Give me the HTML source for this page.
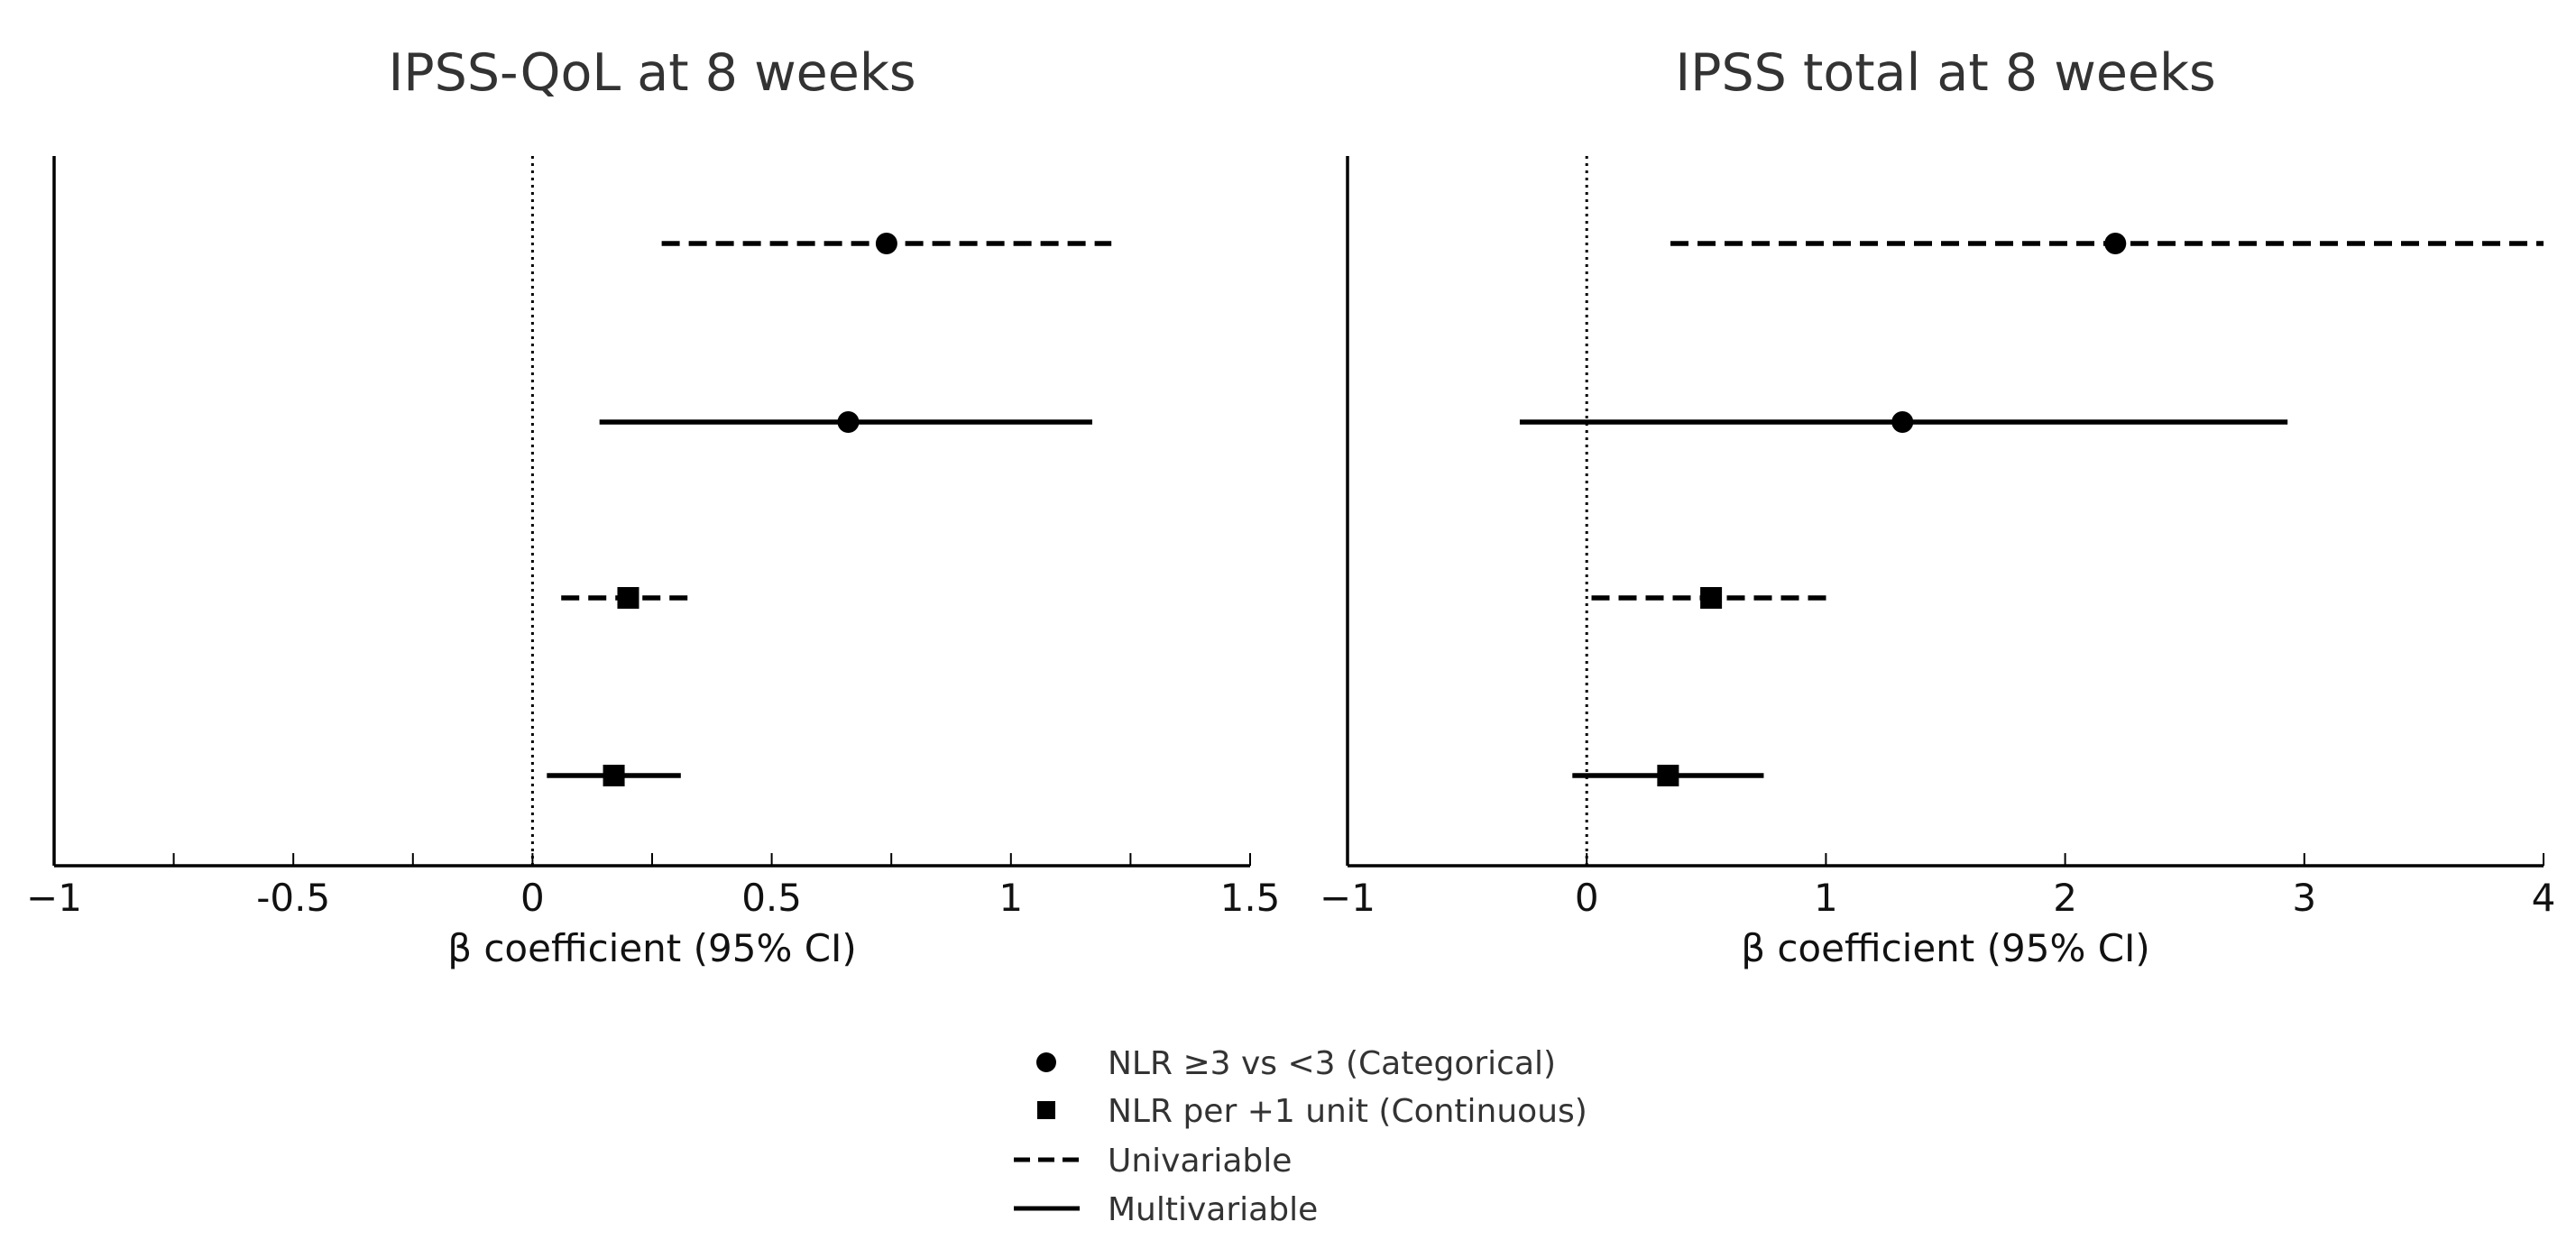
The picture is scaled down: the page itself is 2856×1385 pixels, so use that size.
<!DOCTYPE html>
<html><head><meta charset="utf-8"><style>
html,body{margin:0;padding:0;background:#fff;}
svg{display:block;font-family:"DejaVu Sans","Liberation Sans",sans-serif;}
</style></head><body>
<svg id="chart" width="2856" height="1385" viewBox="0 0 2856 1385"></svg>
<script>
// Row data (top to bottom): cat-uni, cat-multi, cont-uni, cont-multi
const rowKinds = ["circle","circle","square","square"];
const rowStyles = ["dashed","solid","dashed","solid"];
const qolEst = [0.74, 0.66, 0.20, 0.17];
const qolLo  = [0.27, 0.14, 0.06, 0.03];
const qolHi  = [1.21, 1.17, 0.34, 0.31];
const totEst = [2.21, 1.32, 0.52, 0.34];
const totLo  = [0.35, -0.28, 0.02, -0.06];
const totHi  = [4.0, 2.93, 1.03, 0.74];
const qolTicks = [-1,-0.75,-0.5,-0.25,0,0.25,0.5,0.75,1,1.25,1.5];
const qolTickLabels = ["−1","","-0.5","","0","","0.5","","1","","1.5"];
const totTicks = [-1,0,1,2,3,4];
const totTickLabels = ["−1","0","1","2","3","4"];

const NS="http://www.w3.org/2000/svg";
const svg=document.getElementById('chart');
function mk(tag,attrs,parent){const e=document.createElementNS(NS,tag);for(const k in attrs)e.setAttribute(k,attrs[k]);(parent||svg).appendChild(e);return e;}

const rowY=[270,468,663,860];
const axTop=173, axBot=960;

function panel(name,title,x0,x1,dmin,dmax,est,lo,hi,ticks,labels){
  const g=mk('g',{});
  
  
  const sx=v=>x0+(v-dmin)/(dmax-dmin)*(x1-x0);
  const t=mk('text',{x:(x0+x1)/2,y:100,'text-anchor':'middle','font-size':57,fill:'#333'},g);
  t.textContent=title;
  
  
  const ya=mk('line',{x1:x0,y1:axTop,x2:x0,y2:axBot,stroke:'#000','stroke-width':3.5},g);
  
  
  const xa=mk('line',{x1:x0,y1:axBot,x2:x1,y2:axBot,stroke:'#000','stroke-width':3.5},g);
  
  
  ticks.forEach((v,i)=>{
    const tk=mk('line',{x1:sx(v),y1:axBot,x2:sx(v),y2:axBot-14,stroke:'#000','stroke-width':2},g);
    
    
    if(labels[i]){
      const tl=mk('text',{x:sx(v),y:1010,'text-anchor':'middle','font-size':42,fill:'#111'},g);
      tl.textContent=labels[i];
      
      
    }
  });
  const al=mk('text',{x:(x0+x1)/2,y:1066,'text-anchor':'middle','font-size':42,fill:'#111'},g);
  al.textContent='β coefficient (95% CI)';
  
  
  const zl=mk('line',{x1:sx(0),y1:axTop,x2:sx(0),y2:axBot,stroke:'#000','stroke-width':3,'stroke-dasharray':'3,5'},g);
  
  
  est.forEach((v,i)=>{
    const y=rowY[i];
    const ci=mk('line',{x1:sx(lo[i]),y1:y,x2:sx(hi[i]),y2:y,stroke:'#000','stroke-width':5.5},g);
    if(rowStyles[i]==='dashed')ci.setAttribute('stroke-dasharray','20,10');
    
    
    let m;
    if(rowKinds[i]==='circle') m=mk('circle',{cx:sx(v),cy:y,r:12,fill:'#000'},g);
    else m=mk('rect',{x:sx(v)-12,y:y-12,width:24,height:24,fill:'#000'},g);
    
    
  });
}
panel('ipss-qol-panel','IPSS-QoL at 8 weeks',60,1386,-1,1.5,qolEst,qolLo,qolHi,qolTicks,qolTickLabels);
panel('ipss-total-panel','IPSS total at 8 weeks',1494,2820,-1,4,totEst,totLo,totHi,totTicks,totTickLabels);

// legend
const lg=mk('g',{});


const items=[["circle","NLR ≥3 vs <3 (Categorical)",1178],["square","NLR per +1 unit (Continuous)",1231],["dashed","Univariable",1286],["solid","Multivariable",1340]];
items.forEach(it=>{
  const [k,label,y]=it;
  let s;
  if(k==='circle') s=mk('circle',{cx:1160,cy:y,r:11,fill:'#000'},lg);
  else if(k==='square') s=mk('rect',{x:1150,y:y-10,width:20,height:20,fill:'#000'},lg);
  else { s=mk('line',{x1:1124,y1:y,x2:1197,y2:y,stroke:'#000','stroke-width':5},lg); if(k==='dashed')s.setAttribute('stroke-dasharray','18,9'); }
  
  
  const t=mk('text',{x:1228,y:y+13,'font-size':36,fill:'#333'},lg);
  t.textContent=label;
  
  
});
</script>
</body></html>
